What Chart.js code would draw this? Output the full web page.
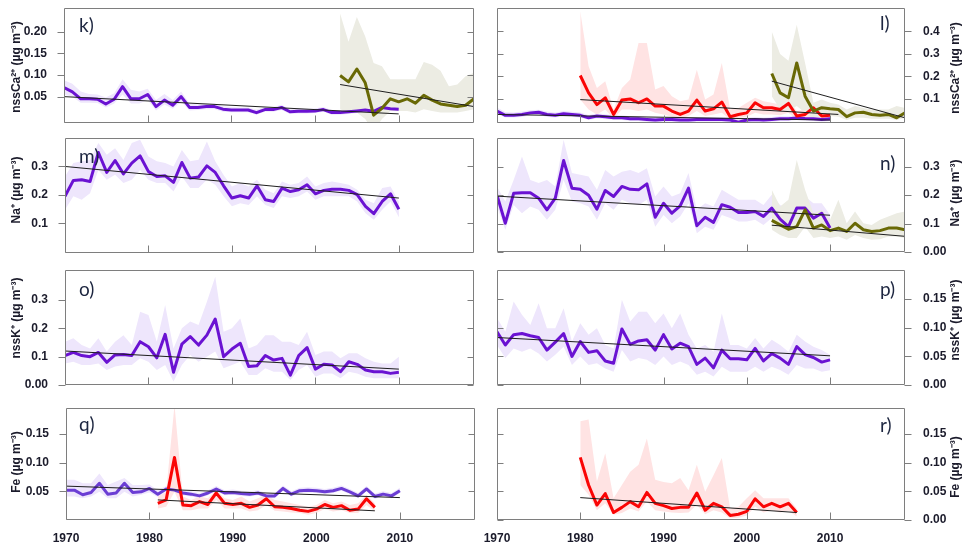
<!DOCTYPE html>
<html>
<head>
<meta charset="utf-8">
<script src="https://cdn.jsdelivr.net/npm/chart.js@4.4.0/dist/chart.umd.min.js"></script>
<style>
  html, body { margin: 0; padding: 0; background: #fff; }
  #wrap { position: relative; width: 965px; height: 542px; overflow: hidden; }
  #wrap canvas { position: absolute; left: 0; top: 0; }
</style>
</head>
<body>
<div id="wrap">
  <canvas id="pk" width="965" height="542"></canvas>
  <canvas id="pl" width="965" height="542"></canvas>
  <canvas id="pm" width="965" height="542"></canvas>
  <canvas id="pn" width="965" height="542"></canvas>
  <canvas id="po" width="965" height="542"></canvas>
  <canvas id="pp" width="965" height="542"></canvas>
  <canvas id="pq" width="965" height="542"></canvas>
  <canvas id="pr" width="965" height="542"></canvas>
</div>
<script>
// x axis, shared by all panels
const xTickYears = [1970, 1980, 1990, 2000, 2010];

// k) nssCa2+ , left column
const kPurple = [.071,.061,.045,.045,.044,.033,.044,.073,.045,.045, .055,.027,.042,.030,.050,.025,.025,.027,.027,.021,
                 .019,.019,.019,.013,.020,.020,.025,.015,.016,.016, .017,.020,.013,.013,.015,.017,.019,.016,.025,.022,.021];
const kPurpleHi = [.088,.080,.062,.056,.055,.048,.058,.090,.066,.062, .068,.042,.056,.042,.062,.034,.032,.034,.034,.028,
                   .026,.025,.025,.020,.026,.026,.031,.021,.022,.022, .023,.026,.019,.019,.021,.023,.025,.022,.030,.028,.027];
const kPurpleLo = [.055,.050,.036,.036,.035,.025,.034,.055,.034,.034, .042,.018,.032,.022,.038,.018,.019,.021,.021,.015,
                   .014,.014,.014,.008,.015,.015,.019,.010,.011,.011, .012,.015,.008,.008,.010,.012,.014,.011,.019,.017,.016];
const kOlive = [.099,.084,.114,.082,.007,.023,.045,.038,.045,.035,.053,.042,.033,.030,.027,.030,.045];
const kOliveHi = [.242,.177,.234,.189,.128,.120,.090,.090,.090,.090,.130,.124,.110,.074,.078,.097,.105];
const kOliveLo = [.021,.013,.013,-.002,-.030,-.002,.017,.017,.017,.013,.021,.017,.013,.013,.013,.017,.021];
const kPurpleTrend = [[1970, .050], [2010, .010]];
const kOliveTrend = [[2003, .078], [2019, .027]];
const kTicks = [0.05, 0.10, 0.15, 0.20];
const kTickLabels = ['0.05', '0.10', '0.15', '0.20'];

// l) nssCa2+ , right column
const lPurple = [.046,.027,.027,.031,.038,.041,.031,.027,.034,.031, .027,.016,.024,.021,.016,.016,.012,.012,.009,.006,
                 .009,.009,.006,.006,.009,.009,.009,.009,.006,-.003, .006,.009,.006,.009,.012,.012,.015,.013,.012,.009,.012];
const lPurpleHi = [.062,.042,.040,.044,.050,.052,.044,.040,.046,.043, .040,.028,.036,.032,.027,.027,.023,.023,.020,.017,
                   .020,.020,.017,.017,.020,.020,.020,.020,.017,.010, .017,.020,.017,.020,.023,.023,.026,.024,.023,.020,.023];
const lPurpleLo = [.034,.017,.017,.020,.027,.030,.020,.017,.023,.020, .017,.006,.013,.010,.006,.006,.002,.002,-.001,-.004,
                   -.001,-.001,-.004,-.004,-.001,-.001,-.001,-.001,-.004,-.012, -.004,-.001,-.004,-.001,.002,.002,.005,.003,.002,-.001,.002];
const lRed = [.204,.127,.075,.105,.031,.095,.100,.083,.100,.068, .068,.046,.031,.046,.095,.046,.056,.086,.021,.031,
              .038,.083,.061,.061,.053,.080,.024,.031,.061,.024,.027];
const lRedHi = [.490,.245,.149,.179,.053,.149,.186,.349,.349,.142, .157,.112,.090,.097,.230,.097,.120,.260,.053,.060,
                .083,.105,.090,.083,.075,.097,.046,.053,.068,.038,.041];
const lRedLo = [.097,.053,.031,.053,.012,.053,.053,.046,.053,.038, .031,.021,.012,.024,.046,.024,.031,.038,.009,.016,
                .021,.038,.031,.031,.027,.038,.009,.012,.027,.009,.012];
const lOlive = [.213,.127,.105,.260,.112,.046,.061,.056,.053,.021,.038,.041,.031,.027,.031,.016,.038];
const lOliveHi = [.400,.300,.270,.430,.260,.083,.097,.083,.075,.053,.068,.060,.053,.053,.053,.068,.060];
const lOliveLo = [.112,.053,.046,.068,.038,.012,.024,.024,.021,.006,.016,.016,.012,.012,.012,.006,.016];
const lPurpleTrend = [[1970, .031], [2010, .006]];
const lRedTrend = [[1980, .097], [2011, .031]];
const lOliveTrend = [[2003, .179], [2019, .016]];
const lTicks = [0.1, 0.2, 0.3, 0.4];
const lTickLabels = ['0.1', '0.2', '0.3', '0.4'];

// m) Na+ , left column
const mPurple = [.195,.251,.253,.247,.349,.279,.321,.274,.312,.337, .282,.265,.267,.244,.314,.259,.263,.302,.279,.232,
                 .189,.197,.189,.232,.183,.177,.224,.212,.218,.236, .204,.216,.220,.220,.216,.201,.160,.134,.177,.204,.150];
const mPurpleHi = [.265,.312,.318,.323,.382,.341,.364,.323,.382,.394, .335,.318,.312,.300,.358,.318,.324,.388,.318,.270,
                   .230,.242,.230,.253,.218,.206,.247,.236,.242,.265, .230,.242,.247,.242,.236,.218,.183,.171,.224,.230,.177];
const mPurpleLo = [.148,.195,.183,.206,.288,.253,.271,.242,.253,.288, .253,.242,.242,.212,.265,.224,.224,.253,.236,.195,
                   .160,.171,.165,.195,.165,.154,.195,.189,.195,.212, .183,.195,.195,.195,.195,.177,.136,.113,.148,.177,.122];
const mPurpleTrend = [[1970, .300], [2010, .189]];
const mTicks = [0.1, 0.2, 0.3];
const mTickLabels = ['0.1', '0.2', '0.3'];

// n) Na+ , right column
const nPurple = [.199,.101,.206,.208,.208,.189,.148,.189,.321,.224, .220,.199,.150,.216,.195,.230,.220,.218,.239,.122,
                 .171,.136,.162,.224,.092,.122,.104,.166,.157,.139, .139,.142,.125,.154,.115,.089,.154,.154,.119,.136,.084];
const nPurpleHi = [.230,.177,.253,.335,.253,.242,.253,.230,.394,.277, .271,.265,.218,.288,.265,.282,.288,.277,.294,.195,
                   .230,.195,.206,.277,.148,.171,.160,.218,.201,.183, .183,.183,.165,.201,.165,.148,.183,.195,.171,.171,.130];
const nPurpleLo = [.160,.078,.165,.136,.160,.148,.113,.148,.253,.177, .171,.160,.113,.171,.148,.183,.171,.165,.183,.089,
                   .130,.101,.125,.171,.066,.089,.078,.130,.119,.107, .107,.113,.095,.119,.089,.072,.119,.119,.089,.101,.066];
const nOlive = [.111,.095,.080,.089,.148,.084,.095,.075,.084,.072,.101,.078,.072,.075,.084,.084,.078];
const nOliveHi = [.218,.160,.183,.323,.218,.136,.148,.113,.183,.101,.142,.101,.095,.113,.125,.136,.142];
const nOliveLo = [.078,.060,.049,.049,.089,.049,.054,.049,.054,.043,.060,.049,.043,.045,.054,.054,.049];
const nPurpleTrend = [[1970, .196], [2010, .129]];
const nOliveTrend = [[2003, .094], [2019, .055]];
const nTicks = [0, 0.1, 0.2, 0.3];
const nTickLabels = ['0.00', '0.1', '0.2', '0.3'];

// o) nssK+ , left column
const oPurple = [.104,.115,.104,.100,.115,.080,.106,.108,.104,.153, .135,.096,.179,.045,.144,.171,.141,.176,.233,.100,
                 .127,.147,.065,.068,.104,.088,.094,.035,.104,.132, .056,.073,.071,.047,.082,.073,.053,.047,.047,.041,.045];
const oPurpleHi = [.153,.165,.141,.129,.165,.118,.153,.176,.141,.259, .247,.153,.282,.129,.200,.224,.212,.294,.382,.188,
                   .200,.235,.129,.141,.176,.176,.153,.153,.141,.188, .106,.118,.118,.094,.112,.112,.094,.082,.076,.076,.100];
const oPurpleLo = [.076,.082,.071,.071,.076,.053,.065,.071,.071,.094, .082,.053,.071,.012,.071,.106,.082,.100,.118,.059,
                   .071,.082,.035,.035,.059,.047,.047,.018,.053,.071, .029,.041,.041,.024,.047,.041,.029,.024,.024,.024,.024];
const oPurpleTrend = [[1970, .120], [2010, .056]];
const oTicks = [0, 0.1, 0.2, 0.3];
const oTickLabels = ['0.00', '0.1', '0.2', '0.3'];

// p) nssK+ , right column
const pPurple = [.093,.070,.088,.090,.086,.083,.061,.075,.090,.050, .076,.057,.060,.042,.038,.098,.071,.077,.079,.061,
                 .088,.063,.073,.067,.036,.047,.030,.061,.046,.046, .044,.064,.042,.055,.047,.036,.067,.053,.048,.040,.044];
const pPurpleHi = [.117,.093,.146,.123,.105,.143,.099,.099,.134,.076, .108,.088,.099,.070,.064,.149,.111,.128,.128,.108,
                   .125,.099,.125,.088,.064,.070,.058,.125,.070,.070, .064,.082,.064,.079,.070,.058,.088,.076,.067,.061,.053];
const pPurpleLo = [.070,.047,.064,.058,.064,.055,.041,.053,.067,.035, .050,.035,.038,.029,.023,.061,.041,.047,.044,.035,
                   .050,.035,.041,.035,.018,.023,.015,.032,.023,.023, .023,.032,.023,.032,.026,.018,.035,.029,.029,.023,.026];
const pPurpleTrend = [[1970, .083], [2010, .051]];
const pTicks = [0, 0.05, 0.10, 0.15];
const pTickLabels = ['0.00', '0.05', '0.10', '0.15'];

// q) Fe , left column
const qPurple = [.052,.052,.044,.048,.064,.045,.047,.064,.048,.049, .055,.045,.054,.052,.047,.045,.042,.047,.054,.047,
                 .048,.046,.045,.047,.042,.042,.055,.045,.051,.052, .051,.049,.051,.055,.049,.042,.054,.041,.045,.042,.051];
const qPurpleHi = [.070,.070,.064,.064,.081,.061,.067,.073,.061,.061, .062,.052,.059,.057,.052,.050,.047,.052,.059,.052,
                   .053,.051,.050,.052,.047,.047,.060,.050,.056,.057, .056,.054,.056,.060,.054,.047,.059,.046,.050,.047,.056];
const qPurpleLo = [.041,.041,.038,.041,.049,.038,.038,.049,.041,.044, .048,.040,.050,.048,.043,.041,.038,.043,.050,.043,
                   .044,.042,.041,.043,.038,.038,.051,.041,.047,.048, .047,.045,.047,.051,.045,.038,.050,.037,.041,.038,.047];
const qRed = [.029,.035,.109,.026,.025,.032,.027,.047,.029,.027, .029,.022,.026,.037,.023,.022,.020,.017,.015,.019,
              .027,.022,.025,.017,.019,.037,.022];
const qRedHi = [.041,.049,.200,.041,.035,.041,.038,.052,.038,.035, .041,.032,.038,.044,.035,.032,.029,.026,.023,.026,
                .035,.029,.032,.026,.029,.044,.029];
const qRedLo = [.020,.023,.049,.017,.017,.020,.020,.035,.020,.020, .020,.015,.017,.026,.016,.015,.013,.012,.009,.012,
                .019,.015,.017,.012,.012,.026,.015];
const qPurpleTrend = [[1970, .059], [2010, .039]];
const qRedTrend = [[1981, .035], [2007, .016]];
const qTicks = [0.05, 0.10, 0.15];
const qTickLabels = ['0.05', '0.10', '0.15'];

// r) Fe , right column
const rRed = [.109,.061,.026,.046,.013,.022,.032,.023,.048,.029, .025,.020,.022,.022,.047,.017,.029,.023,.008,.010,
              .015,.037,.023,.029,.023,.029,.013];
const rRedHi = [.172,.175,.067,.116,.038,.061,.084,.096,.142,.070, .066,.064,.073,.052,.096,.049,.078,.108,.020,.023,
                .038,.052,.038,.038,.038,.038,.020];
const rRedLo = [.061,.044,.017,.029,.009,.012,.020,.015,.032,.017, .015,.013,.012,.013,.026,.010,.017,.013,.003,.004,
                .008,.023,.013,.017,.013,.016,.006];
const rRedTrend = [[1980, .039], [2006, .013]];
const rTicks = [0, 0.05, 0.10, 0.15];
const rTickLabels = ['0.00', '0.05', '0.10', '0.15'];

const PURPLE = '#6a12d2';
const PURPLE_Q = '#6b3dd4';
const RED = '#fa0505';
const OLIVE = '#696905';
const PURPLE_BAND = '#eee6fc';
const RED_BAND = '#ffe3e3';
const OLIVE_BAND = '#ecece3';
const TEXT = '#1b1b2b';
const tickFont = { family: '"Liberation Sans", Arial, sans-serif', size: 12, weight: 'bold' };

function pts(start, vals) {
  return vals.map((v, i) => ({ x: start + i, y: v }));
}

function band(start, lo, hi, color) {
  return [
    { data: pts(start, lo), borderColor: 'rgba(0,0,0,0)', borderWidth: 0, pointRadius: 0, fill: false, order: 5 },
    { data: pts(start, hi), borderColor: 'rgba(0,0,0,0)', borderWidth: 0, pointRadius: 0, fill: '-1', backgroundColor: color, order: 5 }
  ];
}

function line(start, vals, color, order) {
  return { data: pts(start, vals), borderColor: color, borderWidth: 3, pointRadius: 0, fill: false, order: order, borderJoinStyle: 'round' };
}

function trend(p) {
  return { data: p.map(d => ({ x: d[0], y: d[1] })), borderColor: '#1e1e1e', borderWidth: 1, pointRadius: 0, fill: false, order: 0 };
}

// border box, inward/outward tick marks, rotated axis title and panel letter
const framePlugin = {
  id: 'frame',
  afterDraw(chart, args, o) {
    const ctx = chart.ctx;
    const a = chart.chartArea;
    const xs = chart.scales.x, ys = chart.scales.y;
    const L = Math.round(a.left) + 0.5, R = Math.round(a.right) - 0.5;
    const T = Math.round(a.top) + 0.5, B = Math.round(a.bottom) - 0.5;
    ctx.save();
    ctx.strokeStyle = '#7e7e7e';
    ctx.lineWidth = 1;
    ctx.beginPath();
    ctx.rect(L, T, R - L, B - T);
    xTickYears.forEach(v => {
      const px = Math.round(xs.getPixelForValue(v)) + 0.5;
      ctx.moveTo(px, B); ctx.lineTo(px, B - 7);
    });
    o.ticks.forEach(v => {
      const py = Math.round(ys.getPixelForValue(v)) + 0.5;
      if (o.side === 'left') {
        ctx.moveTo(L - 7, py); ctx.lineTo(L, py);
        ctx.moveTo(R - 6, py); ctx.lineTo(R, py);
      } else {
        ctx.moveTo(R, py); ctx.lineTo(R + 7, py);
        ctx.moveTo(L, py); ctx.lineTo(L + 6, py);
      }
    });
    ctx.stroke();

    ctx.fillStyle = TEXT;
    ctx.font = 'bold 12px "Liberation Sans", Arial, sans-serif';
    ctx.textAlign = 'center';
    ctx.textBaseline = 'middle';
    ctx.translate(o.titleX, o.titleY);
    ctx.rotate(-Math.PI / 2);
    ctx.fillText(o.title, 0, 0);
    ctx.setTransform(1, 0, 0, 1, 0, 0);

    ctx.fillStyle = '#1d2640';
    ctx.font = '19px Lato, "Open Sans", sans-serif';
    ctx.textAlign = 'left';
    ctx.fillText(o.letter, o.letterX, o.letterY);
    ctx.restore();
  }
};

function makePanel(id, p) {
  const isLeft = p.side === 'left';
  const hX = p.xLabels ? 24 : 0;
  const yWidth = isLeft ? p.area.l : 965 - p.area.r;
  new Chart(document.getElementById(id), {
    type: 'line',
    data: { datasets: p.datasets },
    options: {
      responsive: false,
      animation: false,
      devicePixelRatio: 1,
      events: [],
      layout: {
        padding: {
          left: isLeft ? 0 : p.area.l,
          right: isLeft ? 965 - p.area.r : 0,
          top: p.area.t,
          bottom: 542 - p.area.b - hX
        }
      },
      plugins: {
        legend: { display: false },
        tooltip: { enabled: false },
        filler: { drawTime: 'beforeDatasetsDraw' },
        frame: {
          side: p.side, ticks: p.yTicks, title: p.title,
          titleX: isLeft ? 17 : 956, titleY: p.titleY,
          letter: p.letter, letterX: isLeft ? 79 : 880, letterY: p.letterY
        }
      },
      scales: {
        x: {
          type: 'linear', min: 1970, max: 2019,
          grid: { display: false }, border: { display: false },
          ticks: { display: !!p.xLabels, padding: 3, font: tickFont, color: TEXT, maxRotation: 0, autoSkip: false,
                   callback: v => String(v) },
          afterBuildTicks: s => { s.ticks = xTickYears.map(v => ({ value: v })); },
          afterFit: s => { s.height = hX; s.paddingLeft = 0; s.paddingRight = 0; }
        },
        y: {
          type: 'linear', position: p.side, min: p.yMin, max: p.yMax,
          grid: { display: false }, border: { display: false },
          ticks: { padding: isLeft ? 9 : 10, font: tickFont, color: TEXT, autoSkip: false,
                   callback: (v, i) => p.yLabels[i] },
          afterBuildTicks: s => { s.ticks = p.yTicks.map(v => ({ value: v })); },
          afterFit: s => { s.width = yWidth; s.paddingTop = 0; s.paddingBottom = 0; }
        }
      }
    },
    plugins: [framePlugin]
  });
}

const CA = 'nssCa\u00B2\u207A (\u00B5g m\u207B\u00B3)';
const NA = 'Na\u207A (\u00B5g m\u207B\u00B3)';
const K = 'nssK\u207A (\u00B5g m\u207B\u00B3)';
const FE = 'Fe (\u00B5g m\u207B\u00B3)';

makePanel('pk', {
  side: 'left', area: { l: 64, t: 8, r: 474, b: 123 }, yMin: -0.011, yMax: 0.255,
  yTicks: kTicks, yLabels: kTickLabels, title: CA, titleY: 67, letter: 'k)', letterY: 26,
  datasets: [
    trend(kPurpleTrend), trend(kOliveTrend),
    line(2003, kOlive, OLIVE, 1), line(1970, kPurple, PURPLE, 2),
    ...band(2003, kOliveLo, kOliveHi, OLIVE_BAND), ...band(1970, kPurpleLo, kPurpleHi, PURPLE_BAND)
  ]
});

makePanel('pl', {
  side: 'right', area: { l: 497, t: 8, r: 905, b: 123 }, yMin: -0.007, yMax: 0.504,
  yTicks: lTicks, yLabels: lTickLabels, title: CA, titleY: 68, letter: 'l)', letterY: 24,
  datasets: [
    trend(lPurpleTrend), trend(lRedTrend), trend(lOliveTrend),
    line(2003, lOlive, OLIVE, 1), line(1980, lRed, RED, 1), line(1970, lPurple, PURPLE, 2),
    ...band(2003, lOliveLo, lOliveHi, OLIVE_BAND), ...band(1980, lRedLo, lRedHi, RED_BAND),
    ...band(1970, lPurpleLo, lPurpleHi, PURPLE_BAND)
  ]
});

makePanel('pm', {
  side: 'left', area: { l: 65, t: 138, r: 474, b: 253 }, yMin: -0.004, yMax: 0.40,
  yTicks: mTicks, yLabels: mTickLabels, title: NA, titleY: 190, letter: 'm)', letterY: 157,
  datasets: [
    trend(mPurpleTrend), line(1970, mPurple, PURPLE, 2),
    ...band(1970, mPurpleLo, mPurpleHi, PURPLE_BAND)
  ]
});

makePanel('pn', {
  side: 'right', area: { l: 497, t: 138, r: 905, b: 252 }, yMin: 0, yMax: 0.40,
  yTicks: nTicks, yLabels: nTickLabels, title: NA, titleY: 193, letter: 'n)', letterY: 164,
  datasets: [
    trend(nPurpleTrend), trend(nOliveTrend),
    line(2003, nOlive, OLIVE, 1), line(1970, nPurple, PURPLE, 2),
    ...band(2003, nOliveLo, nOliveHi, OLIVE_BAND), ...band(1970, nPurpleLo, nPurpleHi, PURPLE_BAND)
  ]
});

makePanel('po', {
  side: 'left', area: { l: 65, t: 270, r: 474, b: 385 }, yMin: 0, yMax: 0.406,
  yTicks: oTicks, yLabels: oTickLabels, title: K, titleY: 318, letter: 'o)', letterY: 290,
  datasets: [
    trend(oPurpleTrend), line(1970, oPurple, PURPLE, 2),
    ...band(1970, oPurpleLo, oPurpleHi, PURPLE_BAND)
  ]
});

makePanel('pp', {
  side: 'right', area: { l: 497, t: 270, r: 905, b: 385 }, yMin: 0, yMax: 0.201,
  yTicks: pTicks, yLabels: pTickLabels, title: K, titleY: 320, letter: 'p)', letterY: 290,
  datasets: [
    trend(pPurpleTrend), line(1970, pPurple, PURPLE, 2),
    ...band(1970, pPurpleLo, pPurpleHi, PURPLE_BAND)
  ]
});

makePanel('pq', {
  side: 'left', area: { l: 66, t: 408, r: 475, b: 520 }, yMin: 0, yMax: 0.195, xLabels: true,
  yTicks: qTicks, yLabels: qTickLabels, title: FE, titleY: 462, letter: 'q)', letterY: 425,
  datasets: [
    trend(qPurpleTrend), trend(qRedTrend),
    line(1981, qRed, RED, 1), line(1970, qPurple, PURPLE_Q, 2),
    ...band(1981, qRedLo, qRedHi, RED_BAND), ...band(1970, qPurpleLo, qPurpleHi, PURPLE_BAND)
  ]
});

makePanel('pr', {
  side: 'right', area: { l: 497, t: 408, r: 905, b: 520 }, yMin: 0, yMax: 0.195, xLabels: true,
  yTicks: rTicks, yLabels: rTickLabels, title: FE, titleY: 467, letter: 'r)', letterY: 426,
  datasets: [
    trend(rRedTrend), line(1980, rRed, RED, 1),
    ...band(1980, rRedLo, rRedHi, RED_BAND)
  ]
});
</script>
</body>
</html>
